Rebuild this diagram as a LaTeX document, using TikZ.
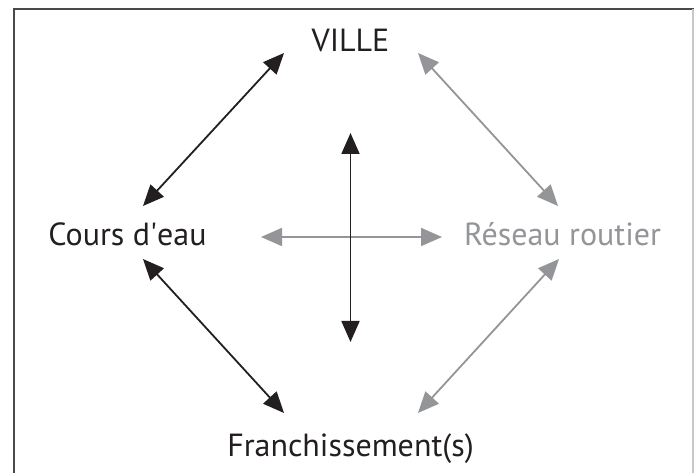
\documentclass[tikz,border=0pt]{standalone}
\usepackage{fontspec}
\setmainfont{PT Sans}
\usetikzlibrary{arrows.meta}
\definecolor{inkblack}{HTML}{231F20}
\definecolor{inkgray}{HTML}{939598}
\definecolor{framedark}{HTML}{4A4A4A}
\definecolor{framelight}{HTML}{C8C8C8}
\begin{document}
\begin{tikzpicture}[x=1pt,y=-1pt,
  label/.style={anchor=base,inner sep=0pt,font=\fontsize{32}{37}\selectfont},
  blackarrow/.style={draw=inkblack,line width=1.8pt,{Triangle[length=21pt,width=18pt]}-{Triangle[length=21pt,width=18pt]},fill=inkblack},
  grayarrow/.style={draw=inkgray,line width=1.8pt,{Triangle[length=21pt,width=18pt]}-{Triangle[length=21pt,width=18pt]},fill=inkgray}]
\useasboundingbox (0,0) rectangle (694,473);
\fill[white] (0,0) rectangle (694,473);
% frame
\draw[framedark,line width=2pt] (13.5,473) -- (13.5,9) -- (694,9);
\draw[framelight,line width=1.5pt] (693,9) -- (693,473);
% labels
\node[label,text=inkblack] (ville) at (350.5,52) {VILLE};
\node[label,text=inkblack] (cours) at (127.5,246) {Cours d\textquotesingle eau};
\node[label,text=inkgray] (reseau) at (562.5,246) {Réseau routier};
\node[label,text=inkblack] (franch) at (350.5,456) {Franchissement(s)};
% arrow end points
\coordinate (vc1) at (284,53);  \coordinate (vc2) at (143,206);
\coordinate (vr1) at (418,53);  \coordinate (vr2) at (558,206);
\coordinate (cf1) at (143,259); \coordinate (cf2) at (284,413);
\coordinate (rf1) at (559,259); \coordinate (rf2) at (418,413);
\coordinate (vt) at (350.5,133); \coordinate (vb) at (350.5,342);
\coordinate (hl) at (261,237);  \coordinate (hr) at (442,237);
% links
\draw[grayarrow] (hl) -- (hr);
\draw[blackarrow] (vt) -- (vb);
\draw[blackarrow] (vc2) -- (vc1);
\draw[grayarrow] (vr1) -- (vr2);
\draw[blackarrow] (cf1) -- (cf2);
\draw[grayarrow] (rf2) -- (rf1);
\end{tikzpicture}
\end{document}
